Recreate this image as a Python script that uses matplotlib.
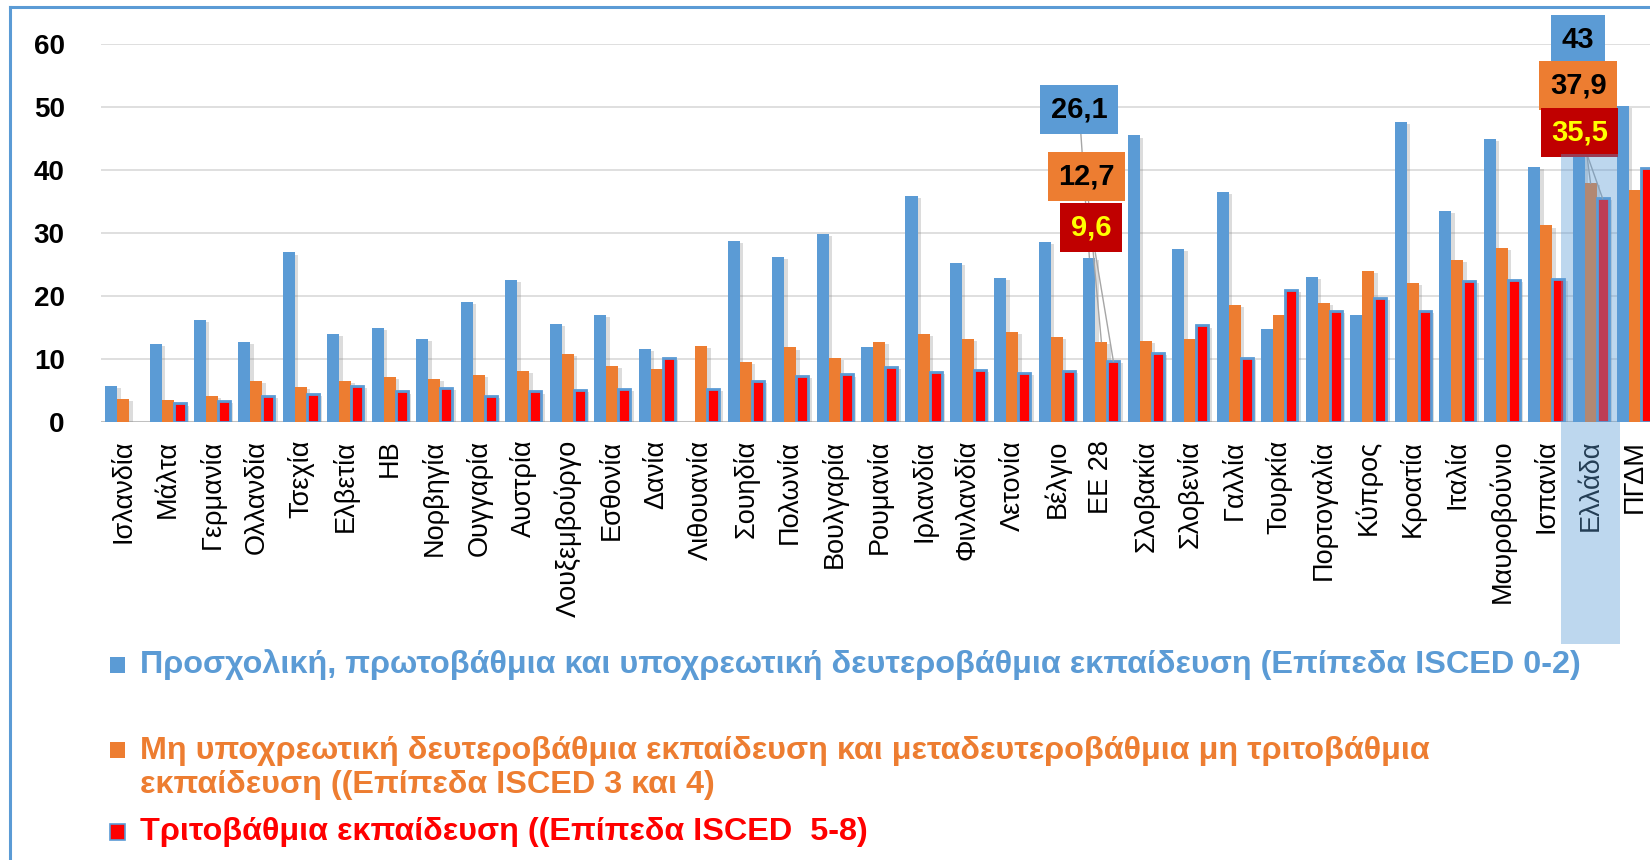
"""Grouped bars: share of low-, mid- and high-education adults by country (ISCED levels)."""
import matplotlib

matplotlib.use("Agg")
import matplotlib.pyplot as plt
import matplotlib.patheffects as pe
import matplotlib.transforms as mtransforms
import numpy as np
from matplotlib.lines import Line2D
from matplotlib.patches import Rectangle

plt.rcParams["font.family"] = ["Liberation Sans", "DejaVu Sans"]

countries = [
    "Ισλανδία", "Μάλτα", "Γερμανία", "Ολλανδία", "Τσεχία", "Ελβετία", "ΗΒ",
    "Νορβηγία", "Ουγγαρία", "Αυστρία", "Λουξεμβούργο", "Εσθονία", "Δανία",
    "Λιθουανία", "Σουηδία", "Πολωνία", "Βουλγαρία", "Ρουμανία", "Ιρλανδία",
    "Φινλανδία", "Λετονία", "Βέλγιο", "ΕΕ 28", "Σλοβακία", "Σλοβενία", "Γαλλία",
    "Τουρκία", "Πορτογαλία", "Κύπρος", "Κροατία", "Ιταλία", "Μαυροβούνιο",
    "Ισπανία", "Ελλάδα", "ΠΓΔΜ",
]
isced_0_2 = [
    5.7, 12.3, 16.2, 12.6, 26.9, 14.0, 14.9, 13.1, 19.0, 22.6, 15.6, 16.9, 11.6,
    np.nan, 28.7, 26.2, 29.8, 11.9, 35.9, 25.3, 22.8, 28.5, 26.1, 45.5, 27.4,
    36.5, 14.8, 23.0, 16.9, 47.7, 33.5, 44.9, 40.5, 43.0, 50.2,
]
isced_3_4 = [
    3.6, 3.4, 4.1, 6.5, 5.5, 6.5, 7.1, 6.8, 7.4, 8.0, 10.7, 8.9, 8.4,
    12.1, 9.5, 11.8, 10.1, 12.7, 13.9, 13.1, 14.3, 13.5, 12.7, 12.9, 13.1,
    18.5, 17.0, 18.8, 24.0, 22.0, 25.7, 27.6, 31.2, 37.9, 36.8,
]
isced_5_8 = [
    np.nan, 2.9, 3.3, 4.1, 4.4, 5.7, 4.8, 5.4, 4.1, 4.8, 5.0, 5.2, 10.2,
    5.2, 6.4, 7.3, 7.5, 8.7, 7.9, 8.2, 7.7, 8.1, 9.6, 10.9, 15.3,
    10.1, 21.0, 17.6, 19.7, 17.6, 22.3, 22.5, 22.7, 35.5, 40.3,
]
series_names = [
    "Προσχολική, πρωτοβάθμια και υποχρεωτική δευτεροβάθμια εκπαίδευση (Επίπεδα ISCED 0-2)",
    "Μη υποχρεωτική δευτεροβάθμια εκπαίδευση και μεταδευτεροβάθμια μη τριτοβάθμια\nεκπαίδευση ((Επίπεδα ISCED 3 και 4)",
    "Τριτοβάθμια εκπαίδευση ((Επίπεδα ISCED  5-8)",
]
labelled = ["ΕΕ 28", "Ελλάδα"]
highlighted = "Ελλάδα"

BLUE = "#5B9BD5"
ORANGE = "#ED7D31"
RED = "#FF0000"
BOX_COLORS = [(BLUE, "black"), (ORANGE, "black"), ("#C00000", "#FFFF00")]

# where the value boxes sit: (x offset from group centre, y in data units)
BOX_POS = {
    "ΕΕ 28": [(-0.50, 49.7), (-0.34, 39.0), (-0.23, 30.8)],
    "Ελλάδα": [(-0.28, 60.7), (-0.28, 53.4), (-0.25, 45.9)],
}


def fmt(v):
    if float(v).is_integer():
        return f"{int(v)}"
    return f"{v:.1f}".replace(".", ",")


def main():
    fig = plt.figure(figsize=(16.5, 8.6), dpi=100)
    ax = fig.add_axes([0.0611, 0.5097, 0.9433, 0.4388])

    x = np.arange(len(countries))
    w = 0.27
    shadow = [pe.SimplePatchShadow(offset=(2.5, -1.5), shadow_rgbFace="#8c8c8c", alpha=0.3), pe.Normal()]
    series = [isced_0_2, isced_3_4, isced_5_8]
    offsets = [-w, 0.0, w]
    for vals, off, col in zip(series, offsets, [BLUE, ORANGE, RED]):
        if col == RED:
            bars = ax.bar(x + off, vals, w, color=RED, edgecolor=BLUE, linewidth=2.0, zorder=3)
        else:
            bars = ax.bar(x + off, vals, w, color=col, linewidth=0, zorder=3)
        for b in bars:
            b.set_path_effects(shadow)

    ax.set_xlim(-0.5, len(countries) - 0.5)
    ax.set_ylim(0, 60)
    ax.set_yticks(range(0, 61, 10))
    ax.grid(axis="y", color="#D9D9D9", linewidth=1.2, zorder=0)
    ax.set_axisbelow(True)
    for s in ax.spines.values():
        s.set_visible(False)
    ax.axhline(0, color="#C0C0C0", linewidth=2.2, zorder=2)
    ax.tick_params(axis="y", length=0, pad=26, labelsize=20)
    for t in ax.get_yticklabels():
        t.set_fontweight("bold")
    ax.set_xticks(x)
    ax.set_xticklabels(countries, rotation=90, fontsize=19.5)
    ax.tick_params(axis="x", length=0, pad=13)

    # value boxes with leader lines
    for name in labelled:
        i = countries.index(name)
        for k, (vals, off) in enumerate(zip(series, offsets)):
            dx, ty = BOX_POS[name][k]
            fc, tc = BOX_COLORS[k]
            ax.annotate(
                fmt(vals[i]), xy=(i + off, vals[i]), xytext=(i + dx, ty),
                ha="center", va="center", fontsize=21, fontweight="bold", color=tc,
                bbox=dict(boxstyle="square,pad=0.36", fc=fc, ec="none"),
                arrowprops=dict(arrowstyle="-", color="#A6A6A6", lw=1.0, shrinkA=0, shrinkB=0),
                annotation_clip=False, zorder=6,
            )

    # translucent highlight band over Greece
    trans = mtransforms.blended_transform_factory(ax.transData, fig.transFigure)
    hi = countries.index(highlighted)
    fig.add_artist(Rectangle((hi - 0.67, 0.2512), 1.34, 0.5697, transform=trans,
                             facecolor=BLUE, alpha=0.4, edgecolor="none", zorder=5))

    # legend, laid out by hand (marker y, text y in pixels from top)
    leg_marker_y = [665, 750, 832]
    leg_text_y = [665, 768, 832]
    for name, col, my, ty in zip(series_names, [BLUE, ORANGE, RED], leg_marker_y, leg_text_y):
        fig.add_artist(Rectangle((110 / 1650, 1 - (my + 8) / 860), 15 / 1650, 16 / 860,
                                 transform=fig.transFigure, facecolor=col,
                                 edgecolor=BLUE if col == RED else "none", linewidth=1.2))
        fig.text(140 / 1650, 1 - ty / 860, name, color=col, fontsize=23.3, fontweight="bold",
                 va="center", ha="left", linespacing=1.2)

    # outer frame (left and top edges visible)
    fig.add_artist(Line2D([10 / 1650, 10 / 1650], [0, 1 - 7 / 860], color=BLUE, lw=2.2,
                          transform=fig.transFigure))
    fig.add_artist(Line2D([10 / 1650, 1], [1 - 7 / 860, 1 - 7 / 860], color=BLUE, lw=2.2,
                          transform=fig.transFigure))

    fig.savefig("out.png", dpi=100)
    plt.close(fig)


if __name__ == "__main__":
    main()
